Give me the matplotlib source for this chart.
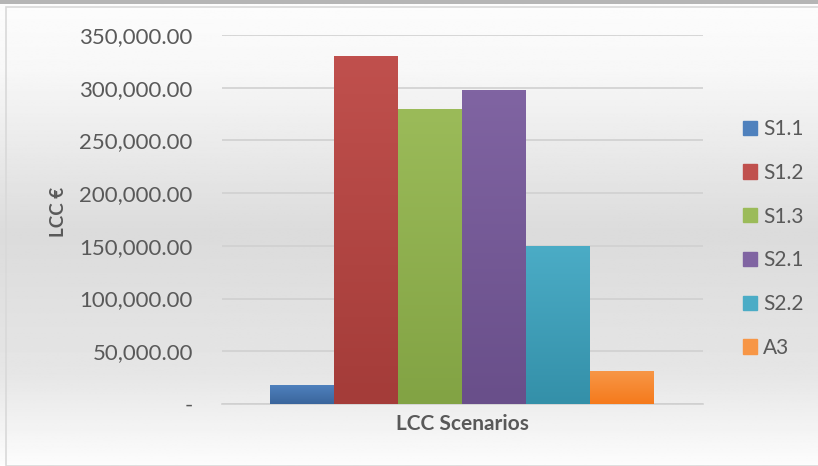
import numpy as np
import matplotlib.pyplot as plt
from matplotlib.patches import Rectangle
from matplotlib.colors import LinearSegmentedColormap

plt.rcParams['font.family'] = ['Lato', 'DejaVu Sans']

scenarios = ["S1.1", "S1.2", "S1.3", "S2.1", "S2.2", "A3"]
lcc = [18000, 330000, 280000, 298000, 150000, 31000]
top_colors = ["#4f81bd", "#c0504d", "#9bbb59", "#8064a2", "#4bacc6", "#f79646"]
bottom_colors = ["#3a659c", "#a43c39", "#82a344", "#694f8a", "#3490a9", "#f57a1c"]
yticks = [0, 50000, 100000, 150000, 200000, 250000, 300000, 350000]

fig = plt.figure(figsize=(8.18, 4.66), dpi=100)

# background gradient (white -> light grey -> white)
bg = fig.add_axes([0, 0, 1, 1], zorder=-10)
bg.set_axis_off()
yy = np.linspace(0, 1, 300)
shade = np.interp(yy, [0, 0.15, 0.5, 0.8, 1.0], [0.99, 0.97, 0.86, 0.90, 0.99])
bg.imshow(np.tile(shade[:, None], (1, 2)), cmap="gray", vmin=0, vmax=1,
          aspect="auto", extent=[0, 1, 0, 1], origin="upper")
bg.set_xlim(0, 1)
bg.set_ylim(0, 1)
# chart border and top strip
bg.add_patch(Rectangle((6 / 818, 0), 1, 1 - 7 / 466, fill=False, ec="#d9d9d9", lw=1.2))
bg.add_patch(Rectangle((0, 1 - 4 / 466), 1, 4 / 466, color="#b5b5b5", lw=0))

ax = fig.add_axes([222 / 818, 1 - 404 / 466, 481 / 818, 369 / 466])
ax.set_facecolor("none")

x = np.arange(len(scenarios))
bars = ax.bar(x, lcc, width=1.0, color=top_colors, label=scenarios, zorder=3)

# vertical gradient fill on each bar
for b, c1, c2 in zip(bars, top_colors, bottom_colors):
    cmap = LinearSegmentedColormap.from_list("g", [c2, c1])
    grad = np.linspace(0, 1, 100)[:, None]
    im = ax.imshow(grad, cmap=cmap, aspect="auto", origin="lower", zorder=4,
                   extent=[b.get_x(), b.get_x() + b.get_width(), 0, b.get_height()])
    im.set_clip_path(b)

ax.set_xlim(-1.25, 6.266)
ax.set_ylim(0, 350000)
ax.set_yticks(yticks)
ax.set_yticklabels(["-"] + [f"{v:,.2f}" for v in yticks[1:]], fontsize=16, color="#595959")
ax.set_xticks([2.5])
ax.set_xticklabels(["LCC Scenarios"], fontsize=15, fontweight="bold", color="#595959")
ax.tick_params(axis="x", length=0, pad=7)
ax.tick_params(axis="y", length=0, pad=21)
ax.grid(axis="y", color="#d0d0d0", lw=1.2, zorder=0)
for s in ["top", "right", "left"]:
    ax.spines[s].set_visible(False)
ax.spines["bottom"].set_color("#d0d0d0")
ax.spines["bottom"].set_linewidth(1.2)
ax.set_ylabel("LCC €", fontsize=13.5, fontweight="bold", color="#595959")
ax.yaxis.set_label_coords(-155 / 481, 0.52)

handles = [Rectangle((0, 0), 1, 1, color=c) for c in top_colors]
fig.legend(handles, scenarios, loc="center left", bbox_to_anchor=(743 / 818, 1 - 238.5 / 466),
           frameon=False, fontsize=15, labelcolor="#595959", handlelength=0.67,
           handleheight=0.67, handletextpad=0.3, labelspacing=1.14, borderpad=0,
           borderaxespad=0)

fig.savefig("out.png", dpi=100)
